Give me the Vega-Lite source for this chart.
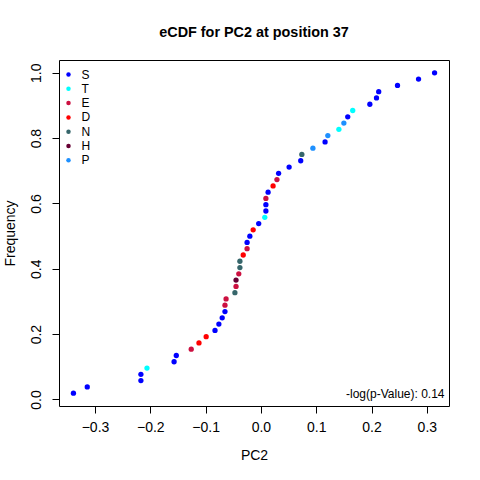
{
  "$schema": "https://vega.github.io/schema/vega-lite/v6.json",
  "width": 390,
  "height": 346,
  "autosize": "none",
  "padding": {"left": 59, "top": 60, "right": 31, "bottom": 74},
  "background": "white",
  "view": {"stroke": "black", "strokeWidth": 1, "fill": null},
  "title": {"text": "eCDF for PC2 at position 37", "fontSize": 14.4, "fontWeight": "bold", "font": "Liberation Sans", "color": "black", "offset": 20},
  "config": {
    "view": {"stroke": "black", "strokeWidth": 1},
    "axis": {"labelFont": "Liberation Sans", "titleFont": "Liberation Sans", "labelFontSize": 14, "titleFontSize": 14, "labelColor": "black", "titleColor": "black", "titleFontWeight": "normal", "ticks": true, "tickColor": "black", "tickWidth": 1, "tickSize": 7, "domain": false, "grid": false}
  },
  "layer": [
    {
      "data": {"values": [
        {"PC2": -0.339, "Frequency": 0.0192, "aa": "S"},
        {"PC2": -0.314, "Frequency": 0.0385, "aa": "S"},
        {"PC2": -0.217, "Frequency": 0.0577, "aa": "S"},
        {"PC2": -0.217, "Frequency": 0.0769, "aa": "S"},
        {"PC2": -0.206, "Frequency": 0.0962, "aa": "T"},
        {"PC2": -0.157, "Frequency": 0.1154, "aa": "S"},
        {"PC2": -0.153, "Frequency": 0.1346, "aa": "S"},
        {"PC2": -0.126, "Frequency": 0.1538, "aa": "E"},
        {"PC2": -0.112, "Frequency": 0.1731, "aa": "D"},
        {"PC2": -0.099, "Frequency": 0.1923, "aa": "D"},
        {"PC2": -0.083, "Frequency": 0.2115, "aa": "S"},
        {"PC2": -0.076, "Frequency": 0.2308, "aa": "S"},
        {"PC2": -0.070, "Frequency": 0.25, "aa": "S"},
        {"PC2": -0.065, "Frequency": 0.2692, "aa": "S"},
        {"PC2": -0.065, "Frequency": 0.2885, "aa": "E"},
        {"PC2": -0.063, "Frequency": 0.3077, "aa": "E"},
        {"PC2": -0.047, "Frequency": 0.3269, "aa": "N"},
        {"PC2": -0.045, "Frequency": 0.3462, "aa": "E"},
        {"PC2": -0.045, "Frequency": 0.3654, "aa": "H"},
        {"PC2": -0.040, "Frequency": 0.3846, "aa": "E"},
        {"PC2": -0.038, "Frequency": 0.4038, "aa": "N"},
        {"PC2": -0.038, "Frequency": 0.4231, "aa": "N"},
        {"PC2": -0.032, "Frequency": 0.4423, "aa": "D"},
        {"PC2": -0.025, "Frequency": 0.4615, "aa": "E"},
        {"PC2": -0.025, "Frequency": 0.4808, "aa": "S"},
        {"PC2": -0.020, "Frequency": 0.5, "aa": "S"},
        {"PC2": -0.014, "Frequency": 0.5192, "aa": "D"},
        {"PC2": -0.004, "Frequency": 0.5385, "aa": "S"},
        {"PC2": 0.007, "Frequency": 0.5577, "aa": "T"},
        {"PC2": 0.009, "Frequency": 0.5769, "aa": "S"},
        {"PC2": 0.009, "Frequency": 0.5962, "aa": "S"},
        {"PC2": 0.009, "Frequency": 0.6154, "aa": "E"},
        {"PC2": 0.013, "Frequency": 0.6346, "aa": "S"},
        {"PC2": 0.022, "Frequency": 0.6538, "aa": "D"},
        {"PC2": 0.029, "Frequency": 0.6731, "aa": "E"},
        {"PC2": 0.032, "Frequency": 0.6923, "aa": "S"},
        {"PC2": 0.051, "Frequency": 0.7115, "aa": "S"},
        {"PC2": 0.072, "Frequency": 0.7308, "aa": "S"},
        {"PC2": 0.074, "Frequency": 0.75, "aa": "N"},
        {"PC2": 0.094, "Frequency": 0.7692, "aa": "P"},
        {"PC2": 0.116, "Frequency": 0.7885, "aa": "S"},
        {"PC2": 0.121, "Frequency": 0.8077, "aa": "P"},
        {"PC2": 0.141, "Frequency": 0.8269, "aa": "T"},
        {"PC2": 0.150, "Frequency": 0.8462, "aa": "P"},
        {"PC2": 0.157, "Frequency": 0.8654, "aa": "S"},
        {"PC2": 0.166, "Frequency": 0.8846, "aa": "T"},
        {"PC2": 0.197, "Frequency": 0.9038, "aa": "S"},
        {"PC2": 0.209, "Frequency": 0.9231, "aa": "S"},
        {"PC2": 0.213, "Frequency": 0.9423, "aa": "S"},
        {"PC2": 0.247, "Frequency": 0.9615, "aa": "S"},
        {"PC2": 0.285, "Frequency": 0.9808, "aa": "S"},
        {"PC2": 0.314, "Frequency": 1.0, "aa": "S"}
      ]},
      "mark": {"type": "point", "filled": true, "opacity": 1, "size": 28, "strokeWidth": 0},
      "encoding": {
        "x": {"field": "PC2", "type": "quantitative", "scale": {"domain": [-0.3651, 0.3401], "nice": false, "zero": false},
              "axis": {"title": "PC2", "values": [-0.3, -0.2, -0.1, 0, 0.1, 0.2, 0.3], "format": ".1f", "labelPadding": 7.5, "titlePadding": 14, "labelFlush": false}},
        "y": {"field": "Frequency", "type": "quantitative", "scale": {"domain": [-0.02, 1.0392], "nice": false, "zero": false},
              "axis": {"title": "Frequency", "values": [0, 0.2, 0.4, 0.6, 0.8, 1.0], "format": ".1f", "labelAngle": -90, "labelAlign": "center", "labelBaseline": "bottom", "labelPadding": 9, "titlePadding": 12, "labelFlush": false}},
        "color": {"field": "aa", "type": "nominal",
                  "scale": {"domain": ["S", "T", "E", "D", "N", "H", "P"], "range": ["#0000FF", "#00FFFF", "#CC1040", "#FF0000", "#36666B", "#660033", "#1E90FF"]},
                  "legend": {"title": null, "orient": "none", "legendX": 3.5, "legendY": 8.5, "padding": 0, "labelFont": "Liberation Sans", "labelFontSize": 12, "labelColor": "black", "symbolSize": 20, "symbolType": "circle", "symbolStrokeWidth": 0, "labelOffset": 7, "rowPadding": 2.3}}
      }
    },
    {
      "data": {"values": [{"PC2": 0.332, "Frequency": 0.016, "label": "-log(p-Value): 0.14"}]},
      "mark": {"type": "text", "align": "right", "baseline": "middle", "font": "Liberation Sans", "fontSize": 12, "color": "black"},
      "encoding": {
        "x": {"field": "PC2", "type": "quantitative"},
        "y": {"field": "Frequency", "type": "quantitative"},
        "text": {"field": "label"}
      }
    }
  ]
}
